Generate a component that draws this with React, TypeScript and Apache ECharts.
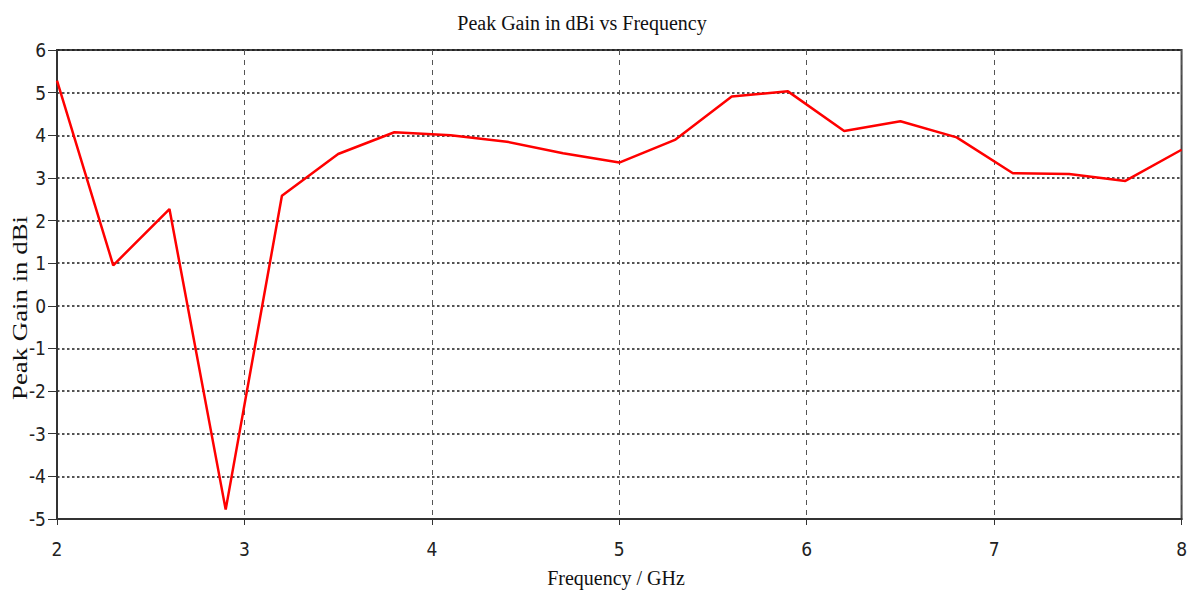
import React, { useEffect, useRef } from "react";
import * as echarts from "echarts";

// Frequency sweep (GHz) and measured peak gain (dBi)
const frequencyGHz = [2.0, 2.3, 2.6, 2.9, 3.2, 3.5, 3.8, 4.1, 4.4, 4.7, 5.0, 5.3, 5.6, 5.9, 6.2, 6.5, 6.8, 7.1, 7.4, 7.7, 8.0];
const peakGainDBi = [5.28, 0.95, 2.27, -4.78, 2.58, 3.56, 4.07, 4.0, 3.85, 3.58, 3.36, 3.9, 4.91, 5.03, 4.1, 4.33, 3.95, 3.11, 3.09, 2.93, 3.66];

const titleText = "Peak Gain in dBi vs Frequency";
const xAxisTitle = "Frequency / GHz";
const yAxisTitle = "Peak Gain in dBi";

const serif = "'Liberation Serif', 'Times New Roman', serif";
const narrow = "'Liberation Sans Narrow', 'DejaVu Sans Condensed', 'Noto Sans', sans-serif";

export default function App() {
  const ref = useRef<HTMLDivElement>(null);

  useEffect(() => {
    document.body.style.margin = "0";
    if (!ref.current) return;
    const chart = echarts.init(ref.current, undefined, { renderer: "svg" });
    const points = frequencyGHz.map((f, i) => [f, peakGainDBi[i]]);

    chart.setOption({
      animation: false,
      backgroundColor: "#ffffff",
      grid: {
        left: 57,
        right: 7,
        top: 50,
        bottom: 76,
        show: true,
        borderColor: "#444",
        borderWidth: 2,
      },
      xAxis: {
        type: "value",
        min: 2,
        max: 8,
        interval: 1,
        axisLine: { show: true, onZero: false, lineStyle: { color: "#333", width: 2 } },
        axisTick: { show: true, length: 6, lineStyle: { color: "#333", width: 1 } },
        axisLabel: { margin: 20, color: "#222", fontSize: 19, fontFamily: narrow },
        splitLine: {
          show: true,
          lineStyle: { color: "#555", width: 1, type: [5, 5] },
        },
      },
      yAxis: {
        type: "value",
        min: -5,
        max: 6,
        interval: 1,
        axisLine: { show: true, onZero: false, lineStyle: { color: "#333", width: 2 } },
        axisTick: { show: true, length: 9, inside: false, lineStyle: { color: "#333", width: 1 } },
        axisLabel: { margin: 11, color: "#222", fontSize: 19, fontFamily: narrow },
        splitLine: {
          show: true,
          lineStyle: { color: "#1a1a1a", width: 1.6, type: [2.5, 2.5] },
        },
      },
      graphic: [
        {
          type: "text",
          x: 582,
          y: 23,
          style: {
            text: titleText,
            font: `20px ${serif}`,
            fill: "#111",
            textAlign: "center",
            textVerticalAlign: "middle",
          },
        },
        {
          type: "text",
          x: 616,
          y: 578,
          style: {
            text: xAxisTitle,
            font: `20px ${serif}`,
            fill: "#111",
            textAlign: "center",
            textVerticalAlign: "middle",
          },
        },
        {
          type: "text",
          x: 19,
          y: 308,
          rotation: Math.PI / 2,
          scaleX: 1.22,
          style: {
            text: yAxisTitle,
            font: `22px ${serif}`,
            fill: "#111",
            textAlign: "center",
            textVerticalAlign: "middle",
          },
        },
      ],
      series: [
        {
          type: "line",
          data: points,
          symbol: "none",
          lineStyle: { color: "#ff0000", width: 2.5 },
          z: 5,
        },
      ],
    });

    return () => chart.dispose();
  }, []);

  return <div ref={ref} style={{ width: 1190, height: 595 }} />;
}
